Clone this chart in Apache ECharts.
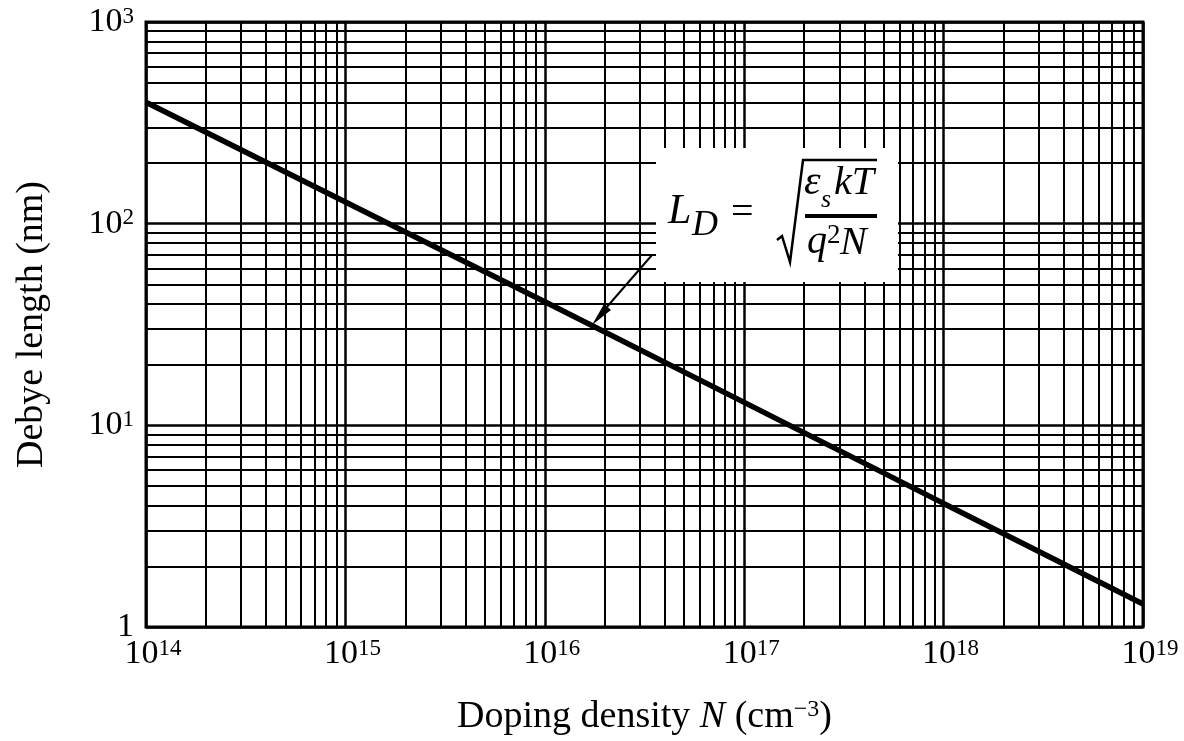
<!DOCTYPE html>
<html>
<head>
<meta charset="utf-8">
<script src="https://cdn.jsdelivr.net/npm/echarts@6/dist/echarts.min.js"></script>
<style>
  html, body { margin: 0; padding: 0; background: #fff; }
  #main { width: 1184px; height: 741px; }
</style>
</head>
<body>
<div id="main"></div>
<script>
// 读图得到的数据 (log-log)
const dopingDensity = [1e14, 1e15, 1e16, 1e17, 1e18, 1e19];
const debyeLength = [400, 128, 41, 13, 4.1, 1.3];

// 网格线 (对数纸)
const xDecades = [1e14, 1e15, 1e16, 1e17, 1e18];
const yDecades = [1, 10, 100];
const minorSteps = [2, 3, 4, 5, 6, 7, 8, 9];

const serif = '"Liberation Serif", "DejaVu Serif", serif';

const curveData = dopingDensity.map((n, i) => [n, debyeLength[i]]);

// 次网格线
const gridLines = [];
xDecades.forEach(d => minorSteps.forEach(k => gridLines.push({ xAxis: k * d })));
yDecades.forEach(d => minorSteps.forEach(k => gridLines.push({ yAxis: k * d })));

function powLabel(v) {
    const e = Math.round(Math.log10(v));
    if (e === 0) return '{b|1}';
    return '{b|10}{s|' + e + '}';
}

const tickRich = {
    b: { fontFamily: serif, fontSize: 34, lineHeight: 34, color: '#000', verticalAlign: 'bottom' },
    s: { fontFamily: serif, fontSize: 23, lineHeight: 23, color: '#000', verticalAlign: 'top' }
};

const chart = echarts.init(document.getElementById('main'));

const italic = size => 'italic ' + size + 'px ' + serif;

const option = {
    animation: false,
    backgroundColor: '#fff',
    grid: {
        left: 146, right: 41, top: 22, bottom: 114,
        show: true,
        borderColor: '#000',
        borderWidth: 3,
        backgroundColor: '#fff',
        containLabel: false,
        outerBoundsMode: 'none'
    },
    xAxis: {
        type: 'log',
        logBase: 10,
        min: 1e14,
        max: 1e19,
        name: '{a|Doping density }{i|N}{a| (cm}{s|−3}{a|)}',
        nameLocation: 'middle',
        nameGap: 71,
        nameMoveOverlap: false,
        nameTextStyle: {
            rich: {
                a: { fontFamily: serif, fontSize: 38, lineHeight: 38, color: '#000', verticalAlign: 'bottom' },
                i: { fontFamily: serif, fontSize: 38, lineHeight: 38, fontStyle: 'italic', color: '#000', verticalAlign: 'bottom' },
                s: { fontFamily: serif, fontSize: 24, lineHeight: 24, color: '#000', verticalAlign: 'top' }
            }
        },
        axisLine: { show: false },
        axisTick: { show: false },
        axisLabel: {
            margin: 10,
            padding: [0, 0, 0, 14],
            showMinLabel: true,
            showMaxLabel: true,
            formatter: powLabel,
            rich: tickRich
        },
        splitLine: { show: true, lineStyle: { color: '#000', width: 2.5 } },
        minorTick: { show: false },
        minorSplitLine: { show: false }
    },
    yAxis: {
        type: 'log',
        logBase: 10,
        min: 1,
        max: 1000,
        name: 'Debye length (nm)',
        nameLocation: 'middle',
        nameGap: 95,
        nameMoveOverlap: false,
        nameTextStyle: { fontFamily: serif, fontSize: 38, color: '#000' },
        axisLine: { show: false },
        axisTick: { show: false },
        axisLabel: {
            margin: 12,
            showMinLabel: true,
            showMaxLabel: true,
            formatter: powLabel,
            rich: tickRich
        },
        splitLine: { show: true, lineStyle: { color: '#000', width: 2.5 } },
        minorTick: { show: false },
        minorSplitLine: { show: false }
    },
    series: [
        {
            // 网格线
            type: 'line',
            z: 1,
            silent: true,
            data: curveData,
            showSymbol: false,
            lineStyle: { width: 0, opacity: 0 },
            markLine: {
                z: 1,
                silent: true,
                symbol: ['none', 'none'],
                label: { show: false },
                emphasis: { disabled: true },
                lineStyle: { color: '#000', width: 2, type: 'solid' },
                data: gridLines
            }
        },
        {
            name: 'Debye length',
            type: 'line',
            z: 5,
            data: curveData,
            showSymbol: false,
            smooth: false,
            lineStyle: { color: '#000', width: 5.5 }
        }
    ],
    graphic: [
        // 公式框
        { type: 'rect', z: 50, shape: { x: 656, y: 148, width: 242, height: 134 }, style: { fill: '#fff' } },
        { type: 'text', z: 51, style: { text: 'L', x: 668, y: 212, font: italic(42), fill: '#000', textVerticalAlign: 'middle' } },
        { type: 'text', z: 51, style: { text: 'D', x: 692, y: 226, font: italic(36), fill: '#000', textVerticalAlign: 'middle' } },
        { type: 'text', z: 51, style: { text: '=', x: 731, y: 213, font: '40px ' + serif, fill: '#000', textVerticalAlign: 'middle' } },
        { type: 'polyline', z: 51, shape: { points: [[777, 240], [782, 236], [790, 262], [803, 160], [877, 160]] }, style: { stroke: '#000', lineWidth: 2.5, fill: null } },
        { type: 'text', z: 51, style: { text: 'ε', x: 804, y: 183, font: italic(42), fill: '#000', textVerticalAlign: 'middle' } },
        { type: 'text', z: 51, style: { text: 's', x: 821, y: 200, font: italic(26), fill: '#000', textVerticalAlign: 'middle' } },
        { type: 'text', z: 51, style: { text: 'kT', x: 834, y: 183, font: italic(40), fill: '#000', textVerticalAlign: 'middle' } },
        { type: 'line', z: 51, shape: { x1: 805, y1: 216, x2: 877, y2: 216 }, style: { stroke: '#000', lineWidth: 4 } },
        { type: 'text', z: 51, style: { text: 'q', x: 807, y: 242, font: italic(40), fill: '#000', textVerticalAlign: 'middle' } },
        { type: 'text', z: 51, style: { text: '2', x: 827, y: 236, font: '27px ' + serif, fill: '#000', textVerticalAlign: 'middle' } },
        { type: 'text', z: 51, style: { text: 'N', x: 840, y: 243, font: italic(40), fill: '#000', textVerticalAlign: 'middle' } },
        // 箭头
        { type: 'line', z: 51, shape: { x1: 652, y1: 255, x2: 606, y2: 308 }, style: { stroke: '#000', lineWidth: 2 } },
        { type: 'polygon', z: 51, shape: { points: [[592, 325], [611, 310], [604, 304]] }, style: { fill: '#000' } }
    ]
};

chart.setOption(option);
</script>
</body>
</html>
